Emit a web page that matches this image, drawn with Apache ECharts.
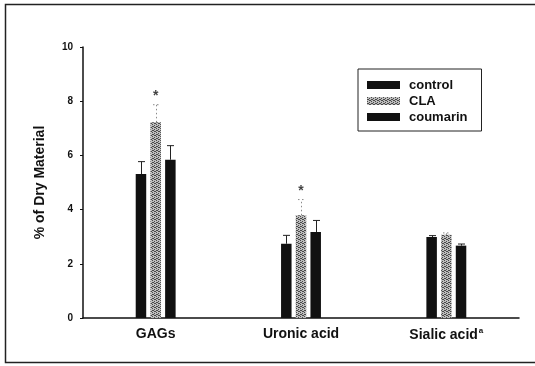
<!DOCTYPE html>
<html>
<head>
<meta charset="utf-8">
<script src="https://cdn.jsdelivr.net/npm/echarts@6/dist/echarts.min.js"></script>
<style>
  html, body { margin: 0; padding: 0; background: #fff; }
  #chart { width: 535px; height: 366px; }
</style>
</head>
<body>
<div id="chart"></div>
<script>
// data (% of dry material)
var categories = ['GAGs', 'Uronic acid', 'Sialic acid'];
var control = [5.31, 2.74, 2.99];
var controlErr = [5.77, 3.05, 3.04];
var cla = [7.22, 3.79, 3.07];
var claErr = [7.87, 4.37, 3.14];
var coumarin = [5.84, 3.17, 2.67];
var coumarinErr = [6.36, 3.60, 2.73];
var starCats = [0, 1];          // significant CLA bars
var starValues = [8.2, 4.67];
var yMin = 0, yMax = 10, yStep = 2;

var chart = echarts.init(document.getElementById('chart'));
var font = '"Liberation Sans", Arial, sans-serif';

// grey stipple for CLA bars
var pat = document.createElement('canvas');
pat.width = 4; pat.height = 4;
var pctx = pat.getContext('2d');
pctx.fillStyle = '#bdbdbd';
pctx.fillRect(0, 0, 4, 4);
pctx.fillStyle = '#4a4a4a';
[[0, 0], [2, 1], [1, 2], [3, 3], [2, 3], [0, 2]].forEach(function (p) { pctx.fillRect(p[0], p[1], 1, 1); });
var claFill = { image: pat, repeat: 'repeat' };

var barW = 10.5, pitch = 14.7;

function errSeries(name, vals, tops, offset, dotted) {
  return {
    type: 'custom',
    name: name,
    silent: true,
    z: 3,
    renderItem: function (params, api) {
      var lo = api.coord([api.value(0), api.value(1)]);
      var hi = api.coord([api.value(0), api.value(2)]);
      var x = Math.round(lo[0] + offset) + 0.5;
      var st = { stroke: dotted ? '#8a8a8a' : '#222', lineWidth: 1, lineDash: dotted ? [1.5, 2.5] : null };
      return {
        type: 'group',
        children: [
          { type: 'line', shape: { x1: x, y1: lo[1], x2: x, y2: hi[1] }, style: st },
          { type: 'line', shape: { x1: x - 3.5, y1: hi[1], x2: x + 3.5, y2: hi[1] }, style: st }
        ]
      };
    },
    data: vals.map(function (v, i) { return [i, v, tops[i]]; })
  };
}

var option = {
  animation: false,
  grid: { left: 83, right: 16, top: 47, bottom: 48 },
  legend: {
    data: ['control', 'CLA', 'coumarin'],
    orient: 'vertical',
    left: 358, top: 69,
    padding: [9, 14, 7, 9],
    icon: 'rect',
    itemWidth: 33, itemHeight: 8,
    itemGap: 2,
    borderColor: '#222', borderWidth: 1,
    textStyle: { fontFamily: font, fontWeight: 'bold', fontSize: 13, color: '#111', lineHeight: 14, padding: [0, 0, 0, 4] }
  },
  xAxis: {
    type: 'category',
    data: categories,
    axisLine: { lineStyle: { color: '#111', width: 1.5 } },
    axisTick: { show: false },
    axisLabel: {
      interval: 0,
      margin: 9,
      fontFamily: font, fontWeight: 'bold', fontSize: 14, color: '#111',
      formatter: function (v) { return v === 'Sialic acid' ? v + '{sup|a}' : v; },
      rich: { sup: { fontFamily: font, fontWeight: 'bold', fontSize: 8, color: '#111', verticalAlign: 'top', padding: [0, 0, 8, 1] } }
    }
  },
  yAxis: {
    type: 'value',
    min: yMin, max: yMax, interval: yStep,
    name: '% of Dry Material',
    nameLocation: 'middle',
    nameGap: 36,
    nameTextStyle: { fontFamily: font, fontWeight: 'bold', fontSize: 14, color: '#111' },
    axisLine: { show: true, lineStyle: { color: '#111', width: 1.5 } },
    axisTick: { show: true, length: 3, lineStyle: { color: '#111' } },
    splitLine: { show: false },
    axisLabel: { margin: 10, fontFamily: font, fontWeight: 'bold', fontSize: 10, color: '#111' }
  },
  graphic: [{
    type: 'rect', silent: true,
    shape: { x: 5.5, y: 4.5, width: 540, height: 358 },
    style: { fill: null, stroke: '#222', lineWidth: 1.5 }
  }],
  series: [
    { name: 'control', type: 'bar', data: control, barWidth: barW, barGap: '40%', itemStyle: { color: '#111' } },
    { name: 'CLA', type: 'bar', data: cla, barWidth: barW, barGap: '40%', itemStyle: { color: claFill } },
    { name: 'coumarin', type: 'bar', data: coumarin, barWidth: barW, barGap: '40%', itemStyle: { color: '#111' } },
    errSeries('control err', control, controlErr, -pitch, false),
    errSeries('CLA err', cla, claErr, 0, true),
    errSeries('coumarin err', coumarin, coumarinErr, pitch, false),
    {
      name: 'sig', type: 'scatter', symbolSize: 0, silent: true,
      data: starCats.map(function (c, i) { return [c, starValues[i]]; }),
      label: { show: true, position: 'inside', formatter: '*', fontFamily: font, fontWeight: 'bold', fontSize: 14, color: '#111' }
    }
  ]
};

chart.setOption(option);
window.addEventListener('resize', chart.resize);
</script>
</body>
</html>
